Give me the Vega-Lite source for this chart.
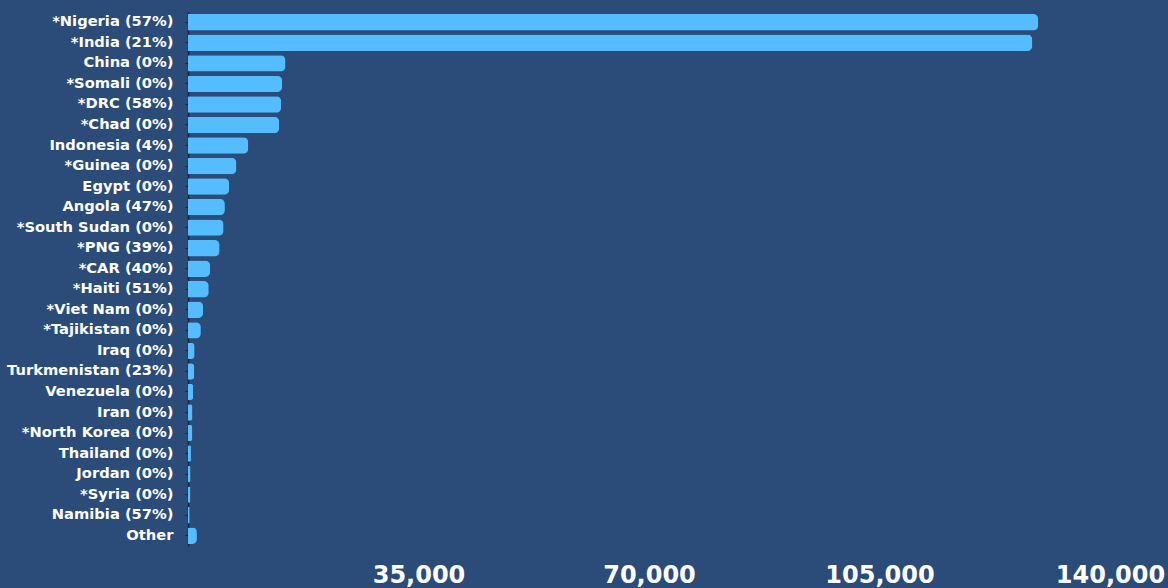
{
  "$schema": "https://vega.github.io/schema/vega-lite/v6.json",
  "autosize": {"type": "none"},
  "width": 922,
  "height": 534,
  "padding": {"left": 188, "top": 12, "right": 58, "bottom": 42},
  "background": "#2b4b78",
  "data": {
    "values": [
      {"country": "*Nigeria (57%)", "value": 129100},
      {"country": "*India (21%)", "value": 128200},
      {"country": "China (0%)", "value": 14800},
      {"country": "*Somali (0%)", "value": 14300},
      {"country": "*DRC (58%)", "value": 14150},
      {"country": "*Chad (0%)", "value": 13850},
      {"country": "Indonesia (4%)", "value": 9150},
      {"country": "*Guinea (0%)", "value": 7350},
      {"country": "Egypt (0%)", "value": 6250},
      {"country": "Angola (47%)", "value": 5600},
      {"country": "*South Sudan (0%)", "value": 5400},
      {"country": "*PNG (39%)", "value": 4800},
      {"country": "*CAR (40%)", "value": 3350},
      {"country": "*Haiti (51%)", "value": 3150},
      {"country": "*Viet Nam (0%)", "value": 2300},
      {"country": "*Tajikistan (0%)", "value": 1950},
      {"country": "Iraq (0%)", "value": 1000},
      {"country": "Turkmenistan (23%)", "value": 950},
      {"country": "Venezuela (0%)", "value": 780},
      {"country": "Iran (0%)", "value": 670},
      {"country": "*North Korea (0%)", "value": 650},
      {"country": "Thailand (0%)", "value": 450},
      {"country": "Jordan (0%)", "value": 380},
      {"country": "*Syria (0%)", "value": 360},
      {"country": "Namibia (57%)", "value": 260},
      {"country": "Other", "value": 1350}
    ]
  },
  "mark": {"type": "bar", "color": "#55bcff", "cornerRadiusEnd": 5},
  "encoding": {
    "y": {
      "field": "country",
      "type": "nominal",
      "sort": null,
      "title": null,
      "scale": {"paddingInner": 0.2, "paddingOuter": 0.1},
      "axis": {
        "domainColor": "#16253a",
        "domainWidth": 1.5,
        "tickColor": "#16253a",
        "tickSize": 3,
        "labelPadding": 12,
        "labelColor": "#ffffff",
        "labelFont": "DejaVu Sans",
        "labelFontWeight": "bold",
        "labelFontSize": 14.7
      }
    },
    "x": {
      "field": "value",
      "type": "quantitative",
      "title": null,
      "scale": {"domain": [0, 140000]},
      "axis": {
        "values": [35000, 70000, 105000, 140000],
        "format": ",d",
        "domain": false,
        "ticks": false,
        "grid": false,
        "labelColor": "#ffffff",
        "labelFont": "DejaVu Sans",
        "labelFontWeight": "bold",
        "labelFontSize": 24,
        "labelPadding": 17,
        "labelFlush": false
      }
    }
  },
  "config": {"view": {"stroke": null}}
}
